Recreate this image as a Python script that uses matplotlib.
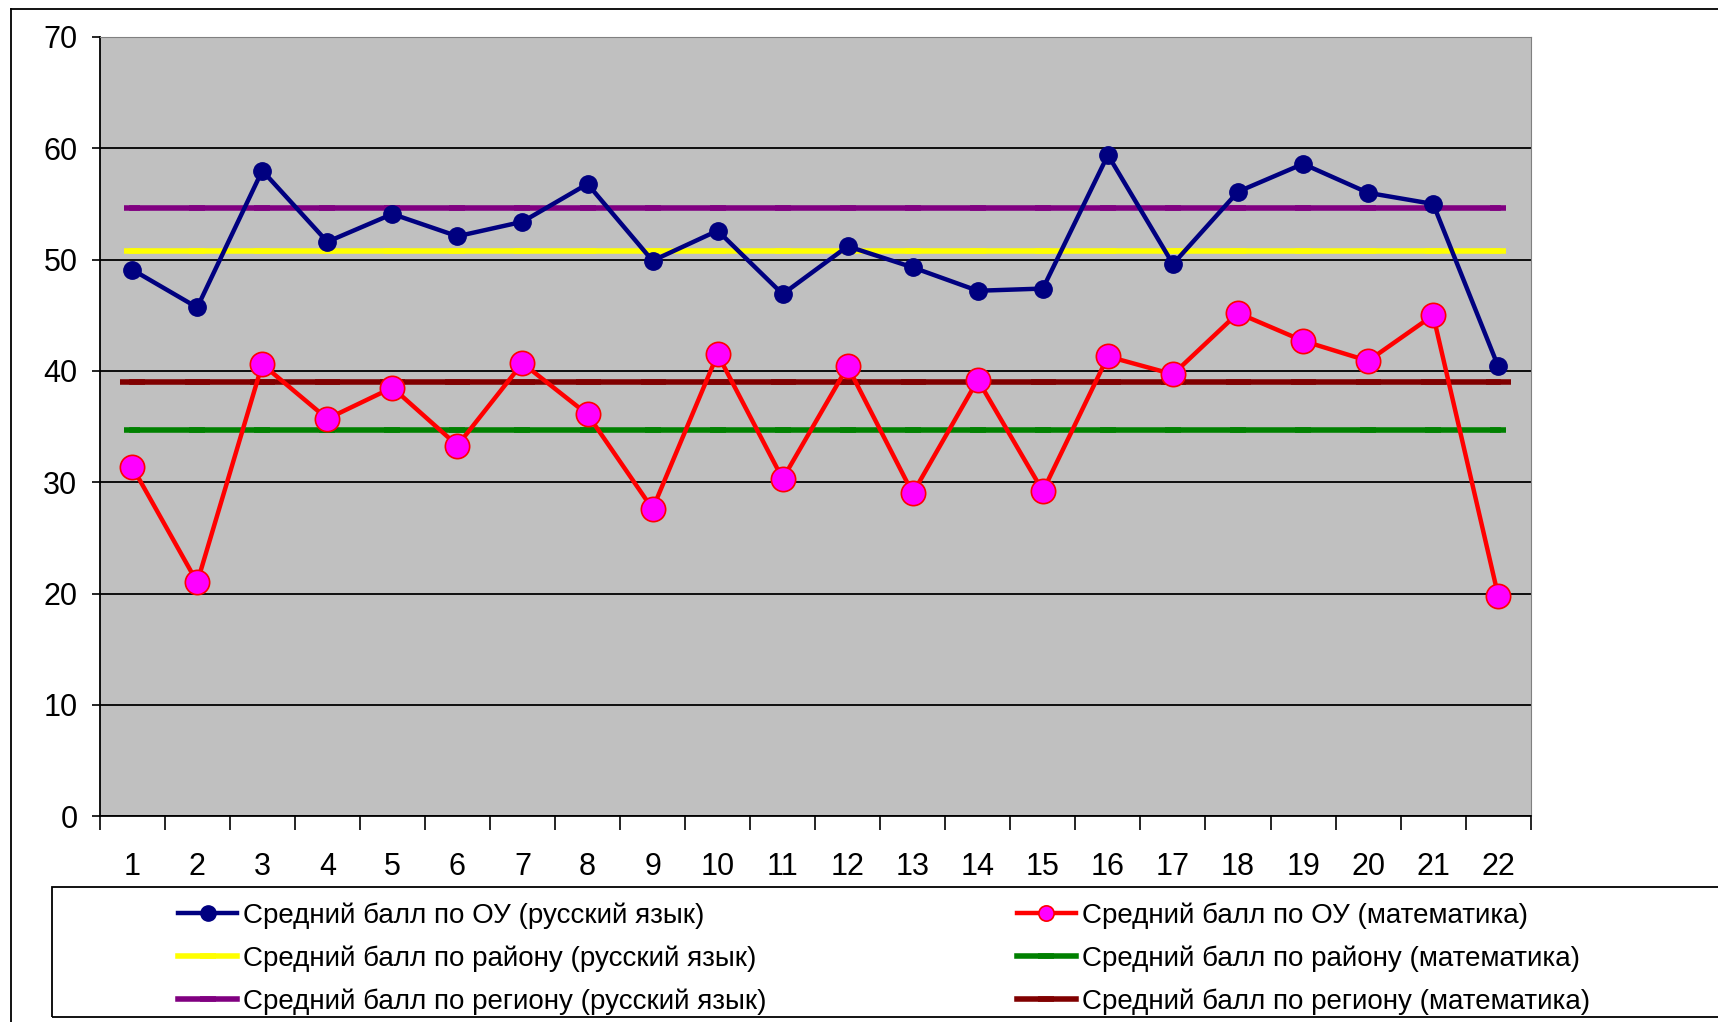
import matplotlib.pyplot as plt
from matplotlib.lines import Line2D
from matplotlib.patches import Rectangle

plt.rcParams['font.family'] = ['Liberation Sans', 'DejaVu Sans']

# schools 1..22
schools = list(range(1, 23))
rus_school = [49.1, 45.7, 58.0, 51.6, 54.1, 52.1, 53.4, 56.8, 49.9, 52.6, 46.9, 51.2,
              49.3, 47.2, 47.4, 59.4, 49.6, 56.1, 58.6, 56.0, 55.0, 40.4]
math_school = [31.4, 21.0, 40.6, 35.7, 38.5, 33.3, 40.7, 36.1, 27.6, 41.5, 30.3, 40.4,
               29.0, 39.2, 29.2, 41.3, 39.7, 45.2, 42.7, 40.9, 45.0, 19.8]
rus_district = 50.8
math_district = 34.7
rus_region = 54.6
math_region = 39.0

labels = ['Средний балл по ОУ (русский язык)',
          'Средний балл по району (русский язык)',
          'Средний балл по региону (русский язык)',
          'Средний балл по ОУ (математика)',
          'Средний балл по району (математика)',
          'Средний балл по региону (математика)']

fig = plt.figure(figsize=(17.18, 10.22), dpi=100)
ax = fig.add_axes([0.058, 0.2014, 0.833, 0.7624])
ax.set_facecolor('#C0C0C0')

n = len(schools)
h_yellow, = ax.plot(schools, [rus_district] * n, color='#FFFF00', lw=4,
                    marker='_', ms=12, mew=4, zorder=3)
h_purple, = ax.plot(schools, [rus_region] * n, color='#800080', lw=4,
                    marker='_', ms=12, mew=4, zorder=3)
h_green, = ax.plot(schools, [math_district] * n, color='#008000', lw=4,
                   marker='_', ms=12, mew=4, zorder=3)
h_dred, = ax.plot(schools, [math_region] * n, color='#800000', lw=4,
                  marker='_', ms=18, mew=4, zorder=3)
h_blue, = ax.plot(schools, rus_school, color='#000080', lw=3.2, marker='o',
                  ms=12.5, mfc='#000080', mec='#000080', zorder=4)
h_red, = ax.plot(schools, math_school, color='#FF0000', lw=3.2, marker='o',
                 ms=17.5, mfc='#FF00FF', mec='#FF0000', mew=1.2, zorder=5)

ax.set_xlim(0.5, 22.5)
ax.set_ylim(0, 70)
ax.set_yticks(range(0, 71, 10))
ax.yaxis.grid(True, color='black', lw=1.3)
ax.set_axisbelow(True)

ax.set_xticks(schools)
ax.set_xticks([i + 0.5 for i in range(0, 23)], minor=True)
ax.tick_params(axis='x', which='major', length=0, pad=26, labelsize=22)
ax.tick_params(axis='x', which='minor', length=10, width=1.2, direction='out')
ax.tick_params(axis='y', length=6, width=1.2, pad=10, labelsize=22)

ax.spines['left'].set_linewidth(1.3)
ax.spines['bottom'].set_linewidth(1.3)
ax.spines['top'].set_color('#808080')
ax.spines['right'].set_color('#808080')

# outer chart border
fig.add_artist(Line2D([0.0064, 0.0064], [0.0, 0.991], color='black', lw=1.3,
                      transform=fig.transFigure))
fig.add_artist(Line2D([0.0064, 1.0], [0.991, 0.991], color='black', lw=1.3,
                      transform=fig.transFigure))

# legend box
fig.add_artist(Rectangle((0.030, 0.005), 1.0, 0.127, transform=fig.transFigure,
                         fill=False, edgecolor='black', lw=1.3))
handles = [h_blue, h_yellow, h_purple, h_red, h_green, h_dred]
leg = fig.legend(handles, labels, ncol=2, loc='upper left',
                 bbox_to_anchor=(0.097, 0.128), frameon=False, fontsize=20,
                 handlelength=2.15, handletextpad=0.2, columnspacing=9.0,
                 labelspacing=0.6, borderaxespad=0)
for h in leg.legend_handles:
    h.set_markersize(11)

fig.savefig('out.png', dpi=100)
